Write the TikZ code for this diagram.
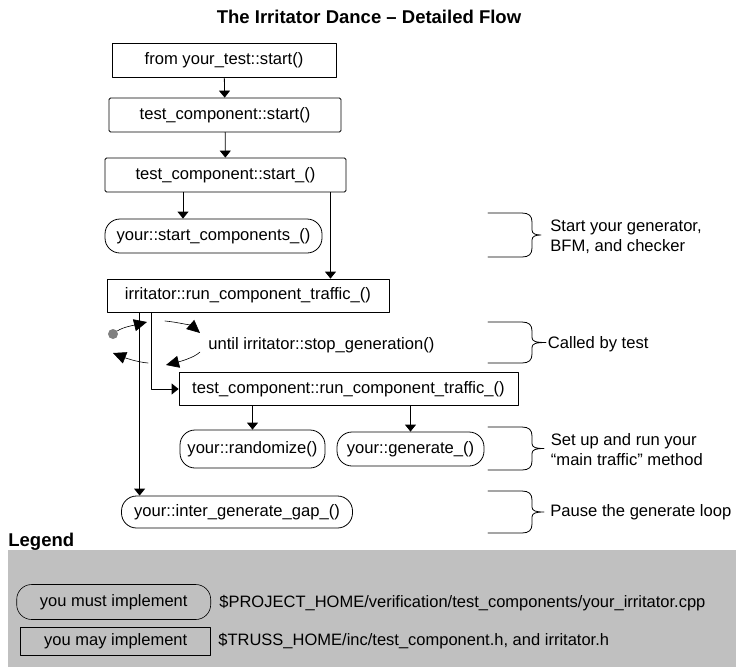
\documentclass[tikz,border=0pt]{standalone}
\usepackage{fontspec}
\setmainfont{Liberation Sans}
\usetikzlibrary{arrows.meta}
\definecolor{legendgray}{RGB}{192,192,192}
\definecolor{dotgray}{RGB}{128,128,128}

\begin{document}
\begin{tikzpicture}[x=1pt, y=-1pt, line cap=round, line join=round, line width=0.8pt, font=\fontsize{16.6}{20}\selectfont, >={Triangle[width=11pt,length=7pt]}]
	\tikzset{box/.style={draw, rectangle, inner sep=0pt, minimum height=34pt},
		implbox/.style={draw, rectangle, rounded corners=15pt, inner sep=0pt, minimum height=34pt},
		looparrow/.style={line width=0.6pt, -{Triangle[width=12pt,length=13pt]}},
		note/.style={anchor=west, align=left, inner sep=0pt},
		head/.style={font=\fontsize{18.5}{22}\selectfont\bfseries},
		legend text/.style={font=\fontsize{16.5}{19}\selectfont}}
	\useasboundingbox (0,0) rectangle (736,667);
	\node[head, anchor=base] (title) at (369,23) {The Irritator Dance – Detailed Flow};
	\node[box, minimum width=224pt] (start) at (224,60) {from your\_test::start()};
	\node[box, rounded corners=1.5pt, minimum width=232pt] (tcstart) at (225,115) {test\_component::start()};
	\node[box, rounded corners=1.5pt, minimum width=241pt] (tcstartu) at (225.5,175) {test\_component::start\_()};
	\node[implbox, minimum width=217pt] (startcomp) at (213.5,236) {your::start\_components\_()};
	\node[box, minimum width=282pt, minimum height=33pt] (irr) at (248,295.5) {irritator::run\_component\_traffic\_()};
	\node[anchor=west, inner sep=0pt] (until) at (208,345) {until irritator::stop\_generation()};
	\node[box, minimum width=339pt, minimum height=33pt] (runtc) at (348.5,389) {test\_component::run\_component\_traffic\_()};
	\node[implbox, minimum width=145pt, minimum height=38pt] (rand) at (252.5,449) {your::randomize()};
	\node[implbox, minimum width=147pt] (gen) at (410.5,449) {your::generate\_()};
	\node[implbox, minimum width=231pt, minimum height=32pt] (gap) at (237,512) {your::inter\_generate\_gap\_()};
	\node[circle, fill=dotgray, inner sep=0pt, minimum size=10pt] (dot) at (113,334) {};
	\coordinate (compout) at ([xshift=-42.5pt]tcstartu.south);
	\coordinate (irrin) at ([xshift=105pt]tcstartu.south);
	\coordinate (gapout) at ([xshift=33pt]irr.south west);
	\coordinate (runout) at ([xshift=45pt]irr.south west);
	\coordinate (upend) at (147,322);
	\coordinate (ovs) at (165,321);
	\coordinate (ove) at (200,333);
	\coordinate (bks) at (200,352);
	\coordinate (bke) at (166,365);
	\coordinate (rts) at (148,363);
	\coordinate (rte) at (113,353);
	\draw[->] (start) -- (tcstart);
	\draw[->] (tcstart) -- (tcstartu);
	\draw[->] (compout) -- (compout |- startcomp.north);
	\draw[->] (irrin) -- (irrin |- irr.north);
	\draw[->] (gapout) -- (gapout |- gap.north);
	\draw[->] (runout) |- (runtc.west);
	\draw[->] (runtc.south -| rand.north) -- (rand.north);
	\draw[->] (runtc.south -| gen.north) -- (gen.north);
	\draw[looparrow] (dot) .. controls +(10,-7) and +(-12,3) .. (upend);
	\draw[looparrow] (ovs) .. controls +(12,1) and +(-8,-7) .. (ove);
	\draw[looparrow] (bks) .. controls +(-6,6) and +(12,-3) .. (bke);
	\draw[looparrow] (rts) .. controls +(-12,-1) and +(10,4) .. (rte);
	\foreach \t/\b/\tip in {213/257/541, 322/363/546, 427/470/544, 491/533/544}{
		\pgfmathsetmacro\m{(\t+\b)/2}
		\draw (488,\t) -- (522,\t) .. controls (529,\t) and (532,\t+3) .. (532,\t+9) -- (532,\m-5)
			.. controls (532,\m-1) and (536,\m) .. (\tip,\m) .. controls (536,\m) and (532,\m+1) .. (532,\m+5)
			-- (532,\b-9) .. controls (532,\b-3) and (529,\b) .. (522,\b) -- (488,\b);
	}
	\node[note] (startnote) at (550,237) {Start your generator,\\BFM, and checker};
	\node[note] (callnote) at (547.5,344) {Called by test};
	\node[note] (setnote) at (550.5,450) {Set up and run your\\“main traffic” method};
	\node[note] (pausenote) at (550,512) {Pause the generate loop};
	\fill[legendgray] (8,550) rectangle (736,667);
	\node[head, anchor=base west, inner sep=0pt] (legend) at (8,546) {Legend};
	\node[implbox, legend text, line width=0.6pt, minimum width=194pt, minimum height=35pt] (must) at (113.7,602) {you must implement};
	\node[box, legend text, line width=0.6pt, minimum width=190pt, minimum height=28pt] (may) at (115.7,641) {you may implement};
	\node[legend text, anchor=west, inner sep=0pt] (mustpath) at (219,603) {\$PROJECT\_HOME/verification/test\_components/your\_irritator.cpp};
	\node[legend text, anchor=west, inner sep=0pt] (maypath) at (218,641.5) {\$TRUSS\_HOME/inc/test\_component.h, and irritator.h};
\end{tikzpicture}
\end{document}
